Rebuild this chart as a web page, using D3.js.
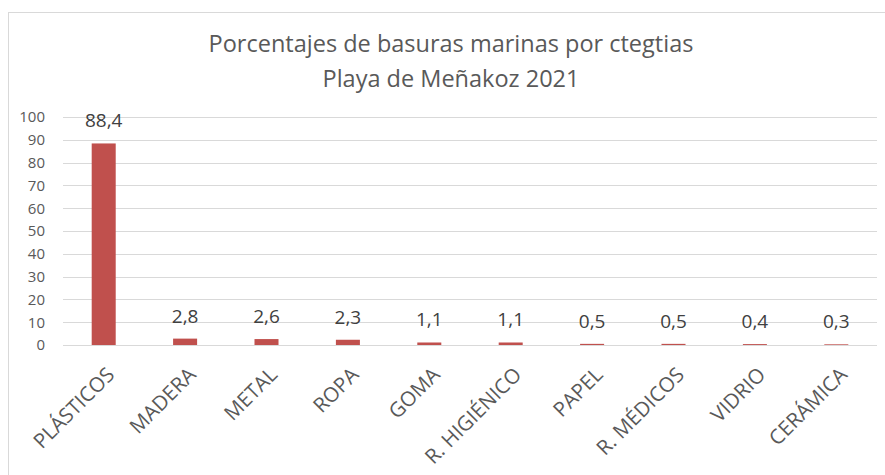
<!DOCTYPE html>
<meta charset="utf-8">
<style>
body { margin: 0; background: #fff; }
text { font-family: "Open Sans", sans-serif; fill: #595959; }
.grid line { stroke: #d9d9d9; stroke-width: 1px; }
</style>
<body>
<div id="chart"></div>
<script src="https://d3js.org/d3.v7.min.js"></script>
<script>
// chart data
var categories = ["PLÁSTICOS", "MADERA", "METAL", "ROPA", "GOMA", "R. HIGIÉNICO", "PAPEL", "R. MÉDICOS", "VIDRIO", "CERÁMICA"];
var values = [88.4, 2.8, 2.6, 2.3, 1.1, 1.1, 0.5, 0.5, 0.4, 0.3];
var yTicks = [0, 10, 20, 30, 40, 50, 60, 70, 80, 90, 100];
var titleLines = ["Porcentajes de basuras marinas por ctegtias", "Playa de Meñakoz 2021"];

var W = 885, H = 475;
var margin = {top: 117, right: 8, bottom: 130, left: 63};

var svg = d3.select("#chart").append("svg")
  .attr("width", W)
  .attr("height", H);

// outer frame
svg.append("rect")
  .attr("x", 8.5).attr("y", 12.5)
  .attr("width", W).attr("height", H)
  .attr("fill", "none")
  .attr("stroke", "#d9d9d9");

var x = d3.scaleBand()
  .domain(categories)
  .range([margin.left, W - margin.right])
  .paddingInner(0.705)
  .paddingOuter(0.3525);

var y = d3.scaleLinear()
  .domain([0, 100])
  .range([345, margin.top]);

// gridlines
svg.append("g").attr("class", "grid")
  .selectAll("line")
  .data(yTicks)
  .join("line")
  .attr("x1", margin.left).attr("x2", W - margin.right)
  .attr("y1", function(d) { return Math.round(y(d)) + 0.5; })
  .attr("y2", function(d) { return Math.round(y(d)) + 0.5; });

// y axis labels
var yAxis = d3.axisLeft(y).tickValues(yTicks).tickSize(0).tickPadding(18);
svg.append("g")
  .attr("transform", "translate(" + margin.left + ",0)")
  .call(yAxis)
  .call(function(g) { g.select(".domain").remove(); })
  .selectAll("text")
  .style("font-size", "15px")
  .style("font-family", "'Open Sans', sans-serif")
  .attr("fill", "#595959");

// bars
svg.append("g")
  .selectAll("rect")
  .data(values)
  .join("rect")
  .attr("x", function(d, i) { return x(categories[i]); })
  .attr("width", x.bandwidth())
  .attr("y", function(d) { return y(d); })
  .attr("height", function(d) { return y(0) - y(d); })
  .attr("fill", "#c0504d");

// value labels
svg.append("g")
  .selectAll("text")
  .data(values)
  .join("text")
  .attr("x", function(d, i) { return x(categories[i]) + x.bandwidth() / 2; })
  .attr("y", function(d) { return y(d) - 16; })
  .attr("text-anchor", "middle")
  .style("font-size", "19px")
  .style("fill", "#404040")
  .text(function(d) { return d3.format(".1f")(d).replace(".", ","); });

// category labels
svg.append("g")
  .selectAll("text")
  .data(categories)
  .join("text")
  .attr("transform", function(d) {
    return "translate(" + (x(d) + x.bandwidth() / 2 + 12) + ",376) rotate(-45)";
  })
  .attr("text-anchor", "end")
  .style("font-size", "20.5px")
  .text(function(d) { return d; });

// title
svg.append("g")
  .selectAll("text")
  .data(titleLines)
  .join("text")
  .attr("x", 451)
  .attr("y", function(d, i) { return 52 + i * 35; })
  .attr("text-anchor", "middle")
  .style("font-size", "23.5px")
  .text(function(d) { return d; });
</script>
</body>
